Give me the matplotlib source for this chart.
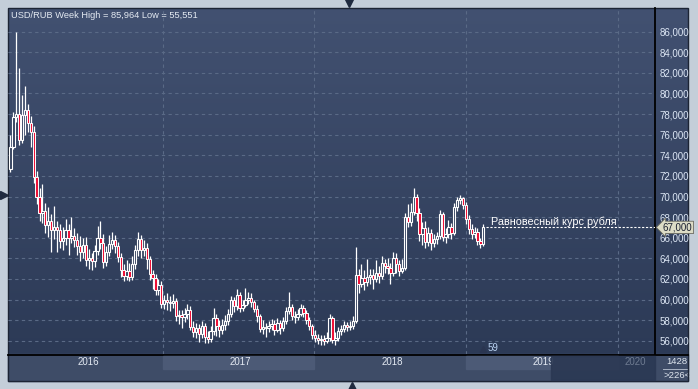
import matplotlib.pyplot as plt
import numpy as np
from matplotlib.patches import Rectangle
from matplotlib.colors import LinearSegmentedColormap
import matplotlib.transforms as mtransforms

plt.rcParams['font.family'] = ['Liberation Sans', 'DejaVu Sans']

# weekly USD/RUB candles (first open, then closes / highs / lows)
first_open = 72.7
close = [74.8, 77.7, 78.0, 75.5, 77.9, 78.4, 77.1, 76.3, 71.9, 70.0,
         68.4, 68.6, 67.2, 67.6, 66.7, 67.0, 66.7, 65.7, 66.0, 66.7,
         66.0, 66.2, 65.8, 65.2, 64.6, 65.3, 63.8, 64.0, 63.7, 64.7,
         66.0, 65.5, 63.6, 64.6, 65.4, 65.8, 65.2, 64.1, 62.9, 62.3,
         62.8, 62.2, 63.4, 64.8, 65.9, 64.8, 65.0, 63.9, 62.5, 62.1,
         60.9, 61.4, 59.6, 60.0, 59.8, 59.7, 59.9, 58.4, 58.5, 58.3,
         58.6, 59.0, 57.3, 56.8, 57.2, 56.7, 57.4, 56.4, 56.2, 56.9,
         58.2, 57.4, 57.0, 57.5, 57.9, 58.6, 60.0, 59.4, 60.4, 59.2,
         59.5, 60.0, 60.1, 59.8, 59.1, 58.4, 57.1, 57.3, 57.2, 57.4,
         57.6, 57.0, 57.7, 57.2, 57.9, 58.9, 59.3, 58.4, 58.3, 58.6,
         59.2, 58.7, 58.0, 57.4, 56.6, 56.3, 56.1, 56.2, 56.0, 56.3,
         58.2, 56.1, 56.3, 56.9, 57.1, 57.5, 57.3, 57.4, 57.9, 62.4,
         61.5, 62.1, 61.7, 62.2, 62.4, 62.0, 62.6, 62.3, 63.5, 63.3,
         63.1, 62.6, 64.0, 63.4, 62.8, 63.1, 68.0, 67.5, 68.5, 70.0,
         68.4, 66.4, 66.9, 65.6, 66.5, 65.5, 65.9, 66.2, 68.3, 66.1,
         66.4, 67.0, 66.5, 69.0, 69.7, 69.9, 69.2, 67.8, 66.8, 66.4,
         66.6, 65.7, 65.4, 67.0]
high = [76.0, 78.2, 86.0, 82.5, 79.9, 80.7, 79.0, 77.8, 76.8, 72.5,
        70.8, 71.2, 69.4, 69.0, 68.3, 69.1, 67.6, 67.3, 67.0, 67.8,
        67.3, 68.0, 66.9, 66.5, 66.2, 66.0, 66.1, 64.9, 64.5, 65.3,
        67.1, 67.6, 66.4, 65.2, 66.3, 66.6, 66.3, 65.6, 64.5, 63.4,
        63.8, 63.5, 64.2, 65.3, 66.6, 66.3, 65.8, 65.5, 64.2, 62.9,
        62.5, 62.0, 61.8, 60.4, 60.6, 60.3, 60.5, 60.1, 59.0, 59.0,
        59.2, 59.6, 59.4, 57.9, 57.7, 57.6, 57.9, 57.7, 56.9, 57.4,
        59.2, 58.6, 58.0, 58.1, 58.5, 59.1, 60.3, 60.2, 61.0, 60.7,
        60.0, 61.1, 60.7, 60.6, 60.0, 59.5, 58.6, 58.0, 57.7, 57.9,
        58.1, 58.0, 58.2, 58.0, 58.3, 59.3, 60.7, 59.6, 58.9, 59.1,
        59.6, 59.5, 59.0, 58.3, 57.6, 57.0, 56.7, 56.6, 56.6, 56.8,
        58.6, 58.4, 56.8, 57.3, 57.5, 57.9, 57.8, 57.9, 58.4, 65.1,
        63.0, 63.4, 62.9, 63.9, 63.0, 63.0, 63.8, 63.3, 64.2, 63.9,
        64.0, 63.5, 64.6, 64.5, 63.8, 63.9, 68.4, 69.3, 69.4, 70.8,
        70.2, 68.9, 67.5, 67.6, 67.0, 66.8, 66.4, 66.6, 68.7, 68.5,
        66.9, 67.7, 67.4, 69.4, 70.0, 70.1, 70.0, 69.5, 68.2, 67.3,
        67.0, 66.9, 66.0, 67.3]
low = [72.4, 74.6, 77.2, 75.0, 75.2, 76.0, 76.3, 74.8, 71.3, 69.3,
       67.6, 67.4, 66.5, 66.1, 64.6, 65.9, 64.6, 65.0, 64.8, 65.3,
       64.3, 65.5, 65.1, 64.3, 63.7, 64.0, 63.3, 63.0, 62.9, 63.2,
       64.3, 64.9, 63.1, 63.3, 64.2, 64.9, 64.5, 63.6, 62.2, 61.8,
       61.9, 61.8, 61.9, 63.0, 64.2, 64.0, 64.2, 63.0, 61.9, 61.0,
       60.4, 60.4, 59.2, 59.1, 59.0, 58.9, 59.2, 57.9, 57.6, 57.2,
       57.8, 58.1, 57.0, 56.4, 56.3, 55.9, 56.3, 55.8, 55.8, 55.9,
       56.6, 56.5, 56.4, 56.7, 57.0, 57.5, 58.3, 58.8, 59.0, 58.8,
       58.9, 59.3, 59.6, 59.3, 58.8, 57.8, 56.8, 56.7, 56.4, 56.8,
       57.0, 56.6, 56.8, 56.7, 56.9, 57.6, 58.6, 58.0, 57.7, 58.0,
       58.4, 58.3, 57.6, 57.0, 56.2, 55.9, 55.7, 55.6, 55.6, 55.8,
       56.0, 55.8, 55.55, 56.0, 56.6, 56.8, 56.9, 57.0, 57.1, 57.7,
       60.6, 61.2, 60.9, 61.3, 61.5, 61.0, 61.7, 61.6, 62.0, 62.6,
       62.5, 61.5, 62.3, 62.6, 62.3, 62.6, 62.9, 67.0, 67.1, 68.2,
       67.6, 65.7, 65.3, 65.0, 65.2, 64.8, 65.1, 65.4, 65.9, 65.7,
       65.5, 66.0, 65.9, 66.3, 68.6, 69.3, 68.8, 67.3, 66.4, 65.9,
       66.0, 65.3, 65.0, 65.2]

price_ticks = list(range(56, 88, 2))
year_labels = ['2016', '2017', '2018', '2019', '2020']
year_starts = [-0.5, 52.6, 104.7, 157.0, 209.3, 261.5]
fair_rate = 67.0
fair_label = 'Равновесный курс рубля'

W, H = 698, 389
fig = plt.figure(figsize=(W / 100, H / 100), dpi=100)
fig.patch.set_facecolor('#c4ced9')

bg = fig.add_axes([0, 0, 1, 1])
bg.set_xlim(0, W)
bg.set_ylim(H, 0)
bg.axis('off')

grad = np.linspace(0, 1, 256).reshape(-1, 1)
cmap = LinearSegmentedColormap.from_list('panel', ['#425171', '#2c3a56'])
bg.imshow(grad, extent=(8, 688, 354, 8), cmap=cmap, aspect='auto', zorder=0)
bg.add_patch(Rectangle((8, 354), 680, 27, color='#3e4c67', zorder=1))
bg.add_patch(Rectangle((8, 8), 680, 373, fill=False, ec='#1c2434', lw=1, zorder=6))
bg.plot([8, 688], [354.5, 354.5], color='black', lw=1.3, zorder=6)
bg.text(11, 15.5, 'USD/RUB Week High = 85,964 Low = 55,551', color='#e4eaf2',
        fontsize=6.7, va='center', ha='left', zorder=7)
bg.text(677, 362, '1428', color='#dfe6ef', fontsize=6.8, ha='center', va='center')
bg.plot([663, 689], [369, 369], color='#aab4c4', lw=0.7)
bg.text(677, 375, '>226<', color='#dfe6ef', fontsize=6.8, ha='center', va='center')
bg.plot(349, 3, marker='v', color='#1f2a3f', ms=6)
bg.plot(352, 386, marker='^', color='#1f2a3f', ms=6)
bg.plot(4, 195, marker='>', color='#1f2a3f', ms=6)

ax = fig.add_axes([8 / W, (H - 354) / H, (655 - 8) / W, (354 - 8) / H])
ax.set_facecolor('none')
ax.set_xlim(-0.86, 222.2)
ax.set_ylim(54.71, 88.3)

weeks = np.arange(len(close))
c = np.array(close)
o = np.r_[first_open, c[:-1]]
hi = np.array(high)
lo = np.array(low)
up = c >= o

for p in price_ticks:
    ax.axhline(p, color='#5a6a86', lw=0.8, dashes=(3, 3), zorder=1)
for ys in year_starts[1:5]:
    ax.axvline(ys, color='#5a6a86', lw=0.8, dashes=(3, 3), zorder=1)

ax.vlines(weeks, lo, hi, color='white', lw=0.9, zorder=3)
ax.bar(weeks[up], np.maximum(c[up] - o[up], 0.08), bottom=o[up], width=0.8,
       facecolor='#34425f', edgecolor='white', lw=0.8, zorder=4)
ax.bar(weeks[~up], c[~up] - o[~up], bottom=o[~up], width=0.8,
       facecolor='#ee1238', edgecolor='white', lw=0.7, zorder=4)

# equilibrium rate line and label
ax.plot([weeks[-1] + 0.8, 222.2], [fair_rate, fair_rate], color='white', lw=0.8,
        dashes=(2, 1.5), zorder=5)
ax.text(weeks[-1] + 2.6, fair_rate + 0.55, fair_label, color='white', fontsize=7.8,
        ha='left', va='center', zorder=5)
ax.plot(weeks[-1], 55.2, marker='^', color='#2a3550', ms=4, zorder=5)
ax.text(weeks[-1] + 1.4, 55.25, '59', color='#b9d2f2', fontsize=7, ha='left', va='center')

ax.yaxis.tick_right()
ax.set_yticks(price_ticks)
ax.set_yticklabels([f'{p},000' for p in price_ticks])
ax.tick_params(axis='y', length=0, pad=3, labelsize=7, labelcolor='#dde7f5')
ax.set_xticks([])
for s in ['top', 'left', 'bottom']:
    ax.spines[s].set_visible(False)
ax.spines['right'].set_color('black')
ax.spines['right'].set_linewidth(1.3)

tr = mtransforms.blended_transform_factory(ax.transData, ax.transAxes)
tag = mtransforms.blended_transform_factory(ax.transAxes, ax.transData)
ax.text(1.012, fair_rate, f'{int(fair_rate)},000', transform=tag, fontsize=7,
        color='#1a2030', ha='left', va='center', zorder=8, clip_on=False,
        bbox=dict(boxstyle='larrow,pad=0.12', fc='#dcdcc6', ec='#6b6b60', lw=0.6))

# x axis bar: alternating year bands
for i, lab in enumerate(year_labels[:4]):
    a, b = year_starts[i], year_starts[i + 1]
    if i % 2 == 1:
        ax.add_patch(Rectangle((a, -0.044), b - a, 0.038, transform=tr,
                               color='#4c5a76', clip_on=False, zorder=2))
    ax.text((a + b) / 2 + 0.7, -0.024, lab, transform=tr, color='#e3e9f2', fontsize=7,
            ha='center', va='center', clip_on=False, zorder=3)
ax.add_patch(Rectangle((186.5, -0.075), 222.2 - 186.5, 0.069, transform=tr,
                       color='#2b3853', alpha=0.9, clip_on=False, zorder=4))
ax.text(215.5, -0.024, year_labels[4], transform=tr, color='#6e7b91', fontsize=7,
        ha='center', va='center', clip_on=False, zorder=5)

fig.savefig('out.png', dpi=100, facecolor=fig.get_facecolor())
